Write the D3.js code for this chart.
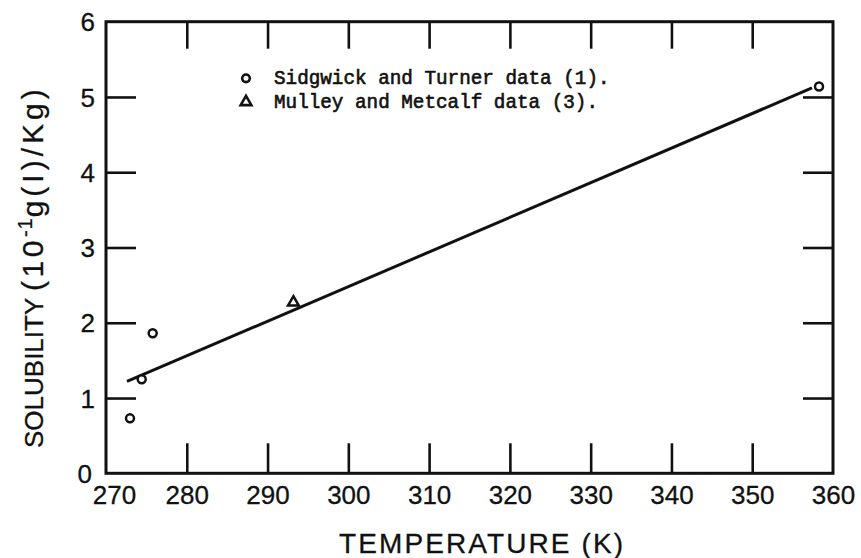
<!DOCTYPE html>
<html>
<head>
<meta charset="utf-8">
<script src="https://cdn.jsdelivr.net/npm/d3@7/dist/d3.min.js"></script>
<style>
  html, body { margin: 0; padding: 0; background: #fff; }
  svg { display: block; }
</style>
</head>
<body>
<svg id="chart" width="861" height="558"></svg>
<script>
// ---- data ----
const xTickValues = [270, 280, 290, 300, 310, 320, 330, 340, 350, 360];
const yTickValues = [0, 1, 2, 3, 4, 5, 6];
const sidgwickTemp = [272.97, 274.42, 275.78, 358.27];
const sidgwickSol  = [0.73, 1.25, 1.86, 5.14];
const mulleyTemp = [293.2];
const mulleySol  = [2.27];
const fitTemp = [272.6, 357.4];
const fitSol  = [1.22, 5.12];
const legendLabels = ["Sidgwick and Turner data (1).", "Mulley and Metcalf data (3)."];

// ---- layout ----
const L = 106, R = 833, T = 21.7, B = 473.3;
const ink = "#111";
const svg = d3.select("#chart");

const x = d3.scaleLinear().domain([270, 360]).range([L, R]);
const y = d3.scaleLinear().domain([0, 6]).range([B, T]);

// frame
svg.append("rect")
  .attr("x", L).attr("y", T).attr("width", R - L).attr("height", B - T)
  .attr("fill", "none").attr("stroke", ink).attr("stroke-width", 3);

const tickFont = "'Liberation Sans', Arial, sans-serif";

// bottom axis (inward ticks + labels)
const gB = svg.append("g").attr("transform", `translate(0,${B})`)
  .call(d3.axisBottom(x).tickValues(xTickValues).tickSize(-30).tickSizeOuter(0).tickPadding(12).tickFormat(d3.format("d")));
// top axis (inward ticks)
const gT = svg.append("g").attr("transform", `translate(0,${T})`)
  .call(d3.axisTop(x).tickValues(xTickValues).tickSize(-27).tickSizeOuter(0).tickFormat(""));
// left axis
const gL = svg.append("g").attr("transform", `translate(${L},0)`)
  .call(d3.axisLeft(y).tickValues(yTickValues).tickSize(-30).tickSizeOuter(0).tickPadding(11).tickFormat(d3.format("d")));
// right axis
const gR = svg.append("g").attr("transform", `translate(${R},0)`)
  .call(d3.axisRight(y).tickValues(yTickValues).tickSize(-30).tickSizeOuter(0).tickFormat(""));

[gB, gT, gL, gR].forEach(g => {
  g.select(".domain").remove();
  g.selectAll(".tick line").attr("stroke", ink).attr("stroke-width", 2.6);
  g.selectAll(".tick text").attr("fill", ink)
    .attr("stroke", ink).attr("stroke-width", 0.3)
    .style("font-family", tickFont).style("font-size", "26px");
});
// hide ticks that coincide with the frame
gB.selectAll(".tick line").filter(d => d === 270 || d === 360).remove();
gT.selectAll(".tick line").filter(d => d === 270 || d === 360).remove();
gL.selectAll(".tick line").filter(d => d === 0 || d === 6).remove();
gR.selectAll(".tick line").filter(d => d === 0 || d === 6).remove();
gB.selectAll(".tick text").attr("dy", "0.71em").attr("dx", d => d === 270 ? 8 : 0);
gL.selectAll(".tick text").attr("dy", "0.35em").attr("dx", d => d === 0 ? -3 : 0);

// axis titles
svg.append("text")
  .attr("x", 481).attr("y", 553)
  .attr("text-anchor", "middle")
  .attr("textLength", 284).attr("lengthAdjust", "spacing")
  .attr("fill", ink).attr("stroke", ink).attr("stroke-width", 0.3)
  .style("font-family", tickFont).style("font-size", "28px")
  .text("TEMPERATURE (K)");

const yt = svg.append("text")
  .attr("transform", "translate(43,448) rotate(-90)")
  .attr("text-anchor", "start")
  .attr("fill", ink).attr("stroke", ink).attr("stroke-width", 0.3)
  .style("font-family", tickFont).style("font-size", "26px");
yt.append("tspan").text("SOLUBILITY ");
yt.append("tspan").style("font-size", "30px").style("letter-spacing", "3.5px").text("(10");
yt.append("tspan").attr("dy", -11).style("font-size", "20px").style("letter-spacing", "1px").text("-1");
yt.append("tspan").attr("dy", 11).style("font-size", "30px").style("letter-spacing", "4px").text("g(I)/Kg)");

// fit line
const line = d3.line().x(d => x(d[0])).y(d => y(d[1]));
svg.append("path")
  .datum(d3.zip(fitTemp, fitSol))
  .attr("d", line)
  .attr("fill", "none").attr("stroke", ink).attr("stroke-width", 3);

// Sidgwick circles
svg.append("g").selectAll("circle")
  .data(d3.zip(sidgwickTemp, sidgwickSol))
  .join("circle")
  .attr("cx", d => x(d[0])).attr("cy", d => y(d[1])).attr("r", 4)
  .attr("fill", "#fff").attr("stroke", ink).attr("stroke-width", 2.5);

// Mulley triangle
const tri = d3.symbol().type(d3.symbolTriangle).size(50);
svg.append("g").selectAll("path")
  .data(d3.zip(mulleyTemp, mulleySol))
  .join("path")
  .attr("d", tri)
  .attr("transform", d => `translate(${x(d[0])},${y(d[1])})`)
  .attr("fill", "#fff").attr("stroke", ink).attr("stroke-width", 2.5);

// legend
const lg = svg.append("g");
lg.append("circle").attr("cx", 246).attr("cy", 78.3).attr("r", 3.8)
  .attr("fill", "none").attr("stroke", ink).attr("stroke-width", 2.6);
lg.append("path").attr("d", tri).attr("transform", "translate(246,102)")
  .attr("fill", "none").attr("stroke", ink).attr("stroke-width", 2.6);
lg.selectAll("text").data(legendLabels).join("text")
  .attr("x", 274).attr("y", (d, i) => 84 + i * 23.5)
  .attr("fill", ink).attr("stroke", ink).attr("stroke-width", 0.6)
  .style("font-family", "'Liberation Mono', 'Courier New', monospace")
  .style("font-size", "19.3px")
  .text(d => d);
</script>
</body>
</html>
